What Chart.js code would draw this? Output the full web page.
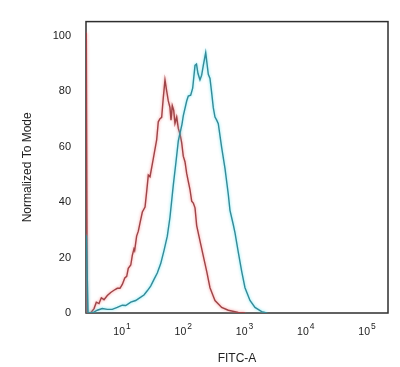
<!DOCTYPE html>
<html>
<head>
<meta charset="utf-8">
<script src="https://cdn.jsdelivr.net/npm/chart.js@4.4.1/dist/chart.umd.min.js"></script>
<style>
  html, body { margin: 0; padding: 0; background: #ffffff; }
  #wrap { width: 400px; height: 367px; }
</style>
</head>
<body>
<div id="wrap"><canvas id="c" width="400" height="367"></canvas></div>
<script>
// ---- data (FITC-A value, % of mode) ----
const redFitc = [2.52, 2.61, 2.97, 3.37, 3.67, 4.06, 4.43, 4.90, 5.55, 6.30, 7.13, 8.07, 8.93, 9.75, 10.7, 11.5, 12.2, 13.4, 14.2, 15.1, 15.5, 16.7, 17.8, 18.9, 20.7, 22.9, 24.4, 25.9, 27.6, 31.2, 35.5, 37.7, 40.2, 42.8, 45.5, 48.5, 51.7, 54.9, 58.5, 60.8, 63.8, 67.3, 70.6, 75.3, 80.0, 85.3, 90.9, 96.4, 102.8, 109.6, 116.4, 124.1, 132.3, 140.6, 149.9, 159.6, 180.7, 204.8, 232.6, 263.2, 298, 317.6, 408.4, 523.6, 762.2, 981];
const redCount = [101, 0, 0, 1.6, 3.9, 3.4, 5.5, 4.8, 6.3, 7.4, 8.2, 8.9, 8.9, 10.3, 12.6, 13.2, 16.1, 17.3, 20.8, 23.1, 22.5, 27.7, 29.5, 32.3, 36.4, 38.2, 43.9, 49.7, 49.1, 55.5, 62.5, 68.9, 70, 70.5, 77.6, 84, 80, 76.4, 74, 69.5, 74.7, 73, 68.3, 70.6, 66.5, 64.5, 61.3, 56.5, 54.5, 50.3, 47.4, 44.5, 40.3, 39.6, 37.9, 31.5, 26, 20.5, 15, 9.1, 6, 4.5, 2, 1, 0.2, 0];

const cyanFitc = [2.52, 2.69, 3.16, 3.80, 4.59, 5.55, 6.68, 8.07, 9.75, 11.1, 13.4, 16.1, 19.5, 22.0, 24.9, 28.3, 32.1, 36.3, 41.3, 46.7, 52.9, 58.5, 66.2, 73.3, 80.0, 91.8, 96.4, 109.6, 116.4, 127.4, 137.3, 149.9, 158.5, 167.6, 180.7, 192.6, 204.8, 224.1, 247.0, 263.2, 280.5, 298.0, 317.6, 338.6, 359.6, 408.4, 462.4, 523.6, 558.0, 632.0, 674.2, 762.2, 866.4, 981.1, 1184, 1428, 1837, 2217];
const cyanCount = [28, 0, 0, 1.0, 1.6, 1.3, 1.3, 2.0, 2.8, 2.7, 3.9, 4.5, 5.7, 6.5, 8.0, 9.7, 12.1, 14.4, 17.8, 22.5, 27.7, 34.5, 46, 54.4, 62, 68, 71, 76.4, 78.2, 78.5, 81, 89.2, 89.7, 86.3, 84, 85.7, 89.2, 93.8, 86, 84.5, 79.3, 74, 70.6, 69.5, 68.2, 59.6, 52.1, 42.8, 37, 31.8, 28.9, 21.9, 15, 9.1, 4.5, 2.0, 0.5, 0];

const xTicks = [10, 100, 1000, 10000, 100000];
const yTicks = [0, 20, 40, 60, 80, 100];
const xTitle = 'FITC-A';
const yTitle = 'Normalized To Mode';

// ---- build ----
const toPoints = (xs, ys) => xs.map((x, i) => ({ x: x, y: ys[i] }));
const SUP = ['\u2070', '\u00B9', '\u00B2', '\u00B3', '\u2074', '\u2075'];
const NARROW = "'Liberation Sans Narrow', 'Arial Narrow', 'Liberation Sans', Arial, sans-serif";
const REG = "'Liberation Sans', Arial, sans-serif";

const glowPlugin = {
  id: 'glow',
  beforeDatasetDraw(chart, args) {
    const ds = chart.data.datasets[args.index];
    chart.ctx.save();
    chart.ctx.shadowColor = ds.glowColor;
    chart.ctx.shadowBlur = 3;
  },
  afterDatasetDraw(chart) {
    chart.ctx.restore();
  }
};

const framePlugin = {
  id: 'frame',
  beforeDatasetsDraw(chart) {
    const a = chart.chartArea, ctx = chart.ctx;
    ctx.save();
    ctx.strokeStyle = '#2e2e2e';
    ctx.lineWidth = 1.5;
    ctx.strokeRect(a.left, a.top, a.right - a.left, a.bottom - a.top);
    ctx.restore();
  }
};

// power-of-ten tick labels: "10" with a raised exponent, placed at the scale's own tick pixels
const powerLabels = {
  id: 'powerLabels',
  afterDraw(chart) {
    const s = chart.scales.x, ctx = chart.ctx;
    const base = chart.chartArea.bottom + 21.5;
    ctx.save();
    ctx.fillStyle = '#222';
    s.ticks.forEach(t => {
      const px = s.getPixelForValue(t.value);
      const e = Math.round(Math.log10(t.value));
      ctx.font = "10.5px " + NARROW;
      ctx.textAlign = 'right';
      ctx.textBaseline = 'alphabetic';
      ctx.fillText('10', px + 2, base);
      ctx.font = "8.5px " + NARROW;
      ctx.textAlign = 'left';
      ctx.fillText(String(e), px + 3, base - 6);
    });
    ctx.restore();
  }
};

new Chart(document.getElementById('c'), {
  type: 'line',
  data: {
    datasets: [
      {
        label: 'stained',
        data: toPoints(cyanFitc, cyanCount),
        borderColor: '#358a98',
        glowColor: 'rgba(70,225,240,0.85)',
        borderWidth: 1.4,
        pointRadius: 0,
        tension: 0,
        fill: false
      },
      {
        label: 'control',
        data: toPoints(redFitc, redCount),
        borderColor: '#9e4448',
        glowColor: 'rgba(245,115,115,0.85)',
        borderWidth: 1.4,
        pointRadius: 0,
        tension: 0,
        fill: false
      }
    ]
  },
  options: {
    responsive: false,
    animation: false,
    devicePixelRatio: 1,
    layout: { padding: { top: 11, right: 12, left: 0, bottom: 0 } },
    plugins: { legend: { display: false }, tooltip: { enabled: false } },
    scales: {
      x: {
        type: 'logarithmic',
        position: 'bottom',
        min: 2.49,
        max: 212000,
        grid: { display: false, drawTicks: false },
        border: { display: false },
        afterBuildTicks(scale) { scale.ticks = xTicks.map(v => ({ value: v, major: true })); },
        afterFit(scale) { scale.height = 54; },
        ticks: {
          display: false,
          autoSkip: false,
          maxRotation: 0,
          callback: (v) => '10' + SUP[Math.round(Math.log10(v))]
        },
        title: {
          display: true,
          text: xTitle,
          color: '#222',
          font: { family: REG, size: 12 },
          padding: { top: 0, bottom: 1 }
        }
      },
      y: {
        type: 'linear',
        min: 0,
        max: 105,
        grid: { display: false, drawTicks: false },
        border: { display: false },
        afterBuildTicks(scale) { scale.ticks = yTicks.map(v => ({ value: v })); },
        afterFit(scale) { scale.width = 86; },
        ticks: {
          padding: 15,
          color: '#222',
          font: { family: NARROW, size: 11 },
          callback: (v) => String(v)
        },
        title: {
          display: true,
          text: yTitle,
          color: '#222',
          font: { family: REG, size: 12 },
          padding: { top: 20, bottom: 0 }
        }
      }
    }
  },
  plugins: [framePlugin, glowPlugin, powerLabels]
});
</script>
</body>
</html>
